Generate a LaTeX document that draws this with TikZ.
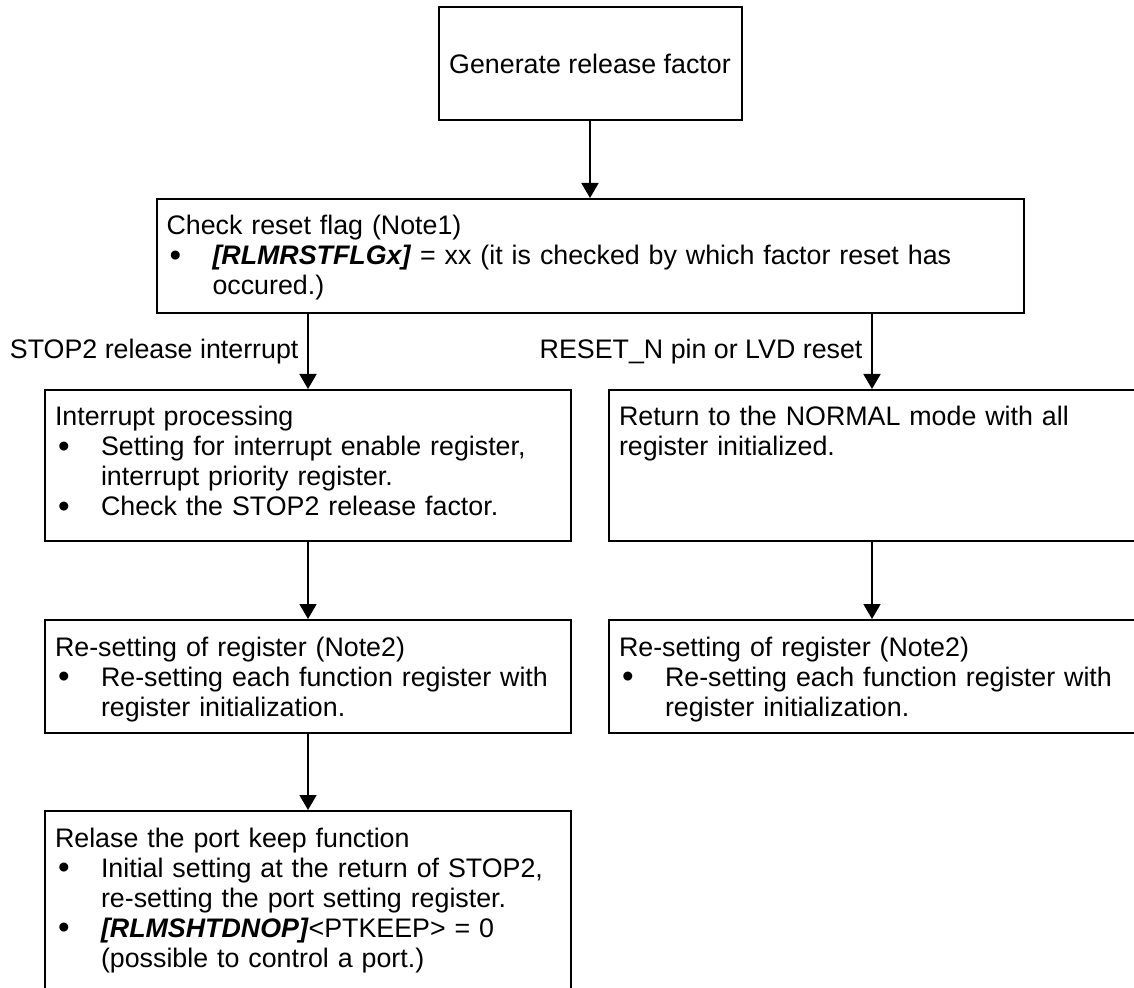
\documentclass[tikz,border=0pt]{standalone}
\usepackage{fontspec}
\setmainfont{Liberation Sans}
\usetikzlibrary{positioning,arrows.meta}

% bullet line with hanging indent
\newcommand{\bitem}[1]{\par\noindent\hangindent=23pt\hangafter=1\hspace*{1.5pt}\makebox[21.5pt][l]{\raisebox{-0.8pt}{\fontsize{16.5}{15}\selectfont\textbullet}}#1\par}

\begin{document}
\begin{tikzpicture}[x=0.5pt, y=-0.5pt, font=\fontsize{13.4}{15}\selectfont,
    box/.style={draw, rectangle, line width=1pt, anchor=north, align=left, inner xsep=5pt, inner ysep=8pt, text height=10pt},
    arr/.style={line width=0.9pt, -{Triangle[length=7.5pt, width=8.5pt]}}]
    \useasboundingbox (0,0) rectangle (1134,988);
    \clip (0,0) rectangle (1134,988);

    \node (gen) [draw, rectangle, line width=1pt, minimum width=151.5pt, minimum height=56.5pt] at (590,63.5) {Generate release factor};

    \node (chk) [box, text width=423.5pt, text depth=31pt, below=38.5pt of gen] {Check reset flag (Note1)\bitem{\textbf{\textit{[RLMRSTFLGx]}} = xx (it is checked by which factor reset has\newline occured.)}};

    \node (intr) [box, text width=253pt, text depth=49.5pt, below=37.5pt of chk, xshift=-141pt] {Interrupt processing\bitem{Setting for interrupt enable register,\newline interrupt priority register.}\bitem{Check the STOP2 release factor.}};
    \node (ret) [box, text width=253pt, text depth=49.5pt, below=37.5pt of chk, xshift=141pt] {Return to the NORMAL mode with all\newline register initialized.};

    \node (reg1) [box, text width=253pt, text depth=30.5pt, below=38.5pt of intr] {Re-setting of register (Note2)\bitem{Re-setting each function register with\newline register initialization.}};
    \node (reg2) [box, text width=253pt, text depth=30.5pt, below=38.5pt of ret] {Re-setting of register (Note2)\bitem{Re-setting each function register with\newline register initialization.}};

    \node (port) [box, text width=253pt, text depth=74pt, below=38pt of reg1] {Relase the port keep function\bitem{Initial setting at the return of STOP2,\newline re-setting the port setting register.}\bitem{\textbf{\textit{[RLMSHTDNOP]}}<PTKEEP> = 0\newline (possible to control a port.)}};

    \draw[arr] (gen) -- (chk);
    \draw[arr] (chk.south -| intr.north) -- (intr.north) node (lstop) [midway, left, xshift=-1pt] {STOP2 release interrupt};
    \draw[arr] (chk.south -| ret.north) -- (ret.north) node (lreset) [midway, left, xshift=-1pt] {RESET\_N pin or LVD reset};
    \draw[arr] (intr) -- (reg1);
    \draw[arr] (ret) -- (reg2);
    \draw[arr] (reg1) -- (port);
\end{tikzpicture}
\end{document}
